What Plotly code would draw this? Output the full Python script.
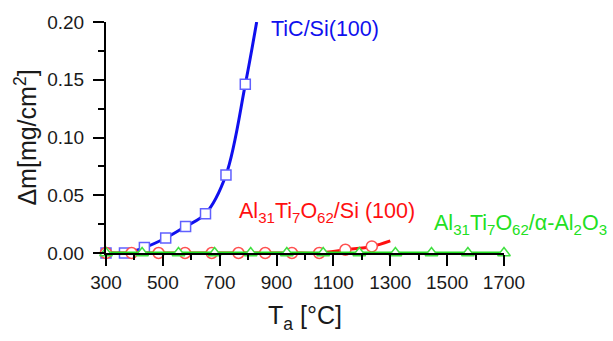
import plotly.graph_objects as go

# Annealing temperature (°C) and mass gain (mg/cm²) per coating/substrate
tic_si_T = [300, 365, 435, 510, 580, 650, 722, 790]
tic_si_dm = [0.0, 0.0, 0.0047, 0.013, 0.023, 0.034, 0.0675, 0.146]
# fitted curve continues past the last measurement
tic_si_curve_T = tic_si_T + [830]
tic_si_curve_dm = tic_si_dm + [0.200]

ato_si_T = [300, 390, 485, 578, 672, 766, 860, 954, 1050, 1142, 1235]
ato_si_dm = [0.0, 0.0, 0.0, 0.0, 0.0, 0.0, 0.0, 0.0, 0.0, 0.0028, 0.0057]
ato_si_curve_T = ato_si_T + [1300]
ato_si_curve_dm = ato_si_dm + [0.0105]

ato_al2o3_T = [300, 427, 555, 682, 809, 936, 1064, 1191, 1318, 1445, 1573, 1700]
ato_al2o3_dm = [0.0] * len(ato_al2o3_T)

x_ticks = [300, 500, 700, 900, 1100, 1300, 1500, 1700]
y_ticks = [0.00, 0.05, 0.10, 0.15, 0.20]

BLUE = "#1010ee"
RED = "#ff1010"
GREEN = "#22e022"
FONT = "Liberation Sans, Arial, sans-serif"

fig = go.Figure()

# TiC/Si(100)
fig.add_trace(go.Scatter(x=tic_si_curve_T, y=tic_si_curve_dm, mode="lines",
                         line=dict(color=BLUE, width=3, shape="spline"),
                         cliponaxis=False, hoverinfo="skip"))
fig.add_trace(go.Scatter(x=tic_si_T, y=tic_si_dm, mode="markers",
                         marker=dict(symbol="square", size=10, color="white",
                                     line=dict(color="#6060ff", width=1.5)),
                         cliponaxis=False))

# Al31Ti7O62/Si(100)
fig.add_trace(go.Scatter(x=ato_si_curve_T, y=ato_si_curve_dm, mode="lines",
                         line=dict(color=RED, width=3, shape="spline"),
                         cliponaxis=False, hoverinfo="skip"))
fig.add_trace(go.Scatter(x=ato_si_T, y=ato_si_dm, mode="markers",
                         marker=dict(symbol="circle", size=11, color="white",
                                     line=dict(color="#ff5050", width=1.5)),
                         cliponaxis=False))

# Al31Ti7O62/α-Al2O3
fig.add_trace(go.Scatter(x=ato_al2o3_T, y=ato_al2o3_dm, mode="lines",
                         line=dict(color=GREEN, width=3),
                         cliponaxis=False, hoverinfo="skip"))
fig.add_trace(go.Scatter(x=ato_al2o3_T, y=ato_al2o3_dm, mode="markers",
                         marker=dict(symbol="triangle-up", size=11, color="white",
                                     line=dict(color="#40e040", width=1.5)),
                         cliponaxis=False))

ann_font = dict(family=FONT, size=21.5)
fig.add_annotation(x=875, y=0.194, text="TiC/Si(100)", showarrow=False,
                   xanchor="left", yanchor="middle",
                   font=dict(ann_font, color=BLUE))
fig.add_annotation(x=762, y=0.0354,
                   text="Al<sub>31</sub>Ti<sub>7</sub>O<sub>62</sub>/Si (100)",
                   showarrow=False, xanchor="left", yanchor="middle",
                   font=dict(ann_font, color=RED))
fig.add_annotation(x=1447, y=0.025,
                   text="Al<sub>31</sub>Ti<sub>7</sub>O<sub>62</sub>/α-Al<sub>2</sub>O<sub>3</sub>",
                   showarrow=False, xanchor="left", yanchor="middle",
                   font=dict(ann_font, color=GREEN))

axis_common = dict(showline=True, linecolor="black", linewidth=2,
                   ticks="outside", tickcolor="black", tickwidth=2, ticklen=11,
                   showgrid=False, zeroline=False, mirror=False,
                   tickfont=dict(family=FONT, size=19, color="#1a1a1a"))

fig.update_xaxes(range=[300, 1700], tickvals=x_ticks,
                 minor=dict(dtick=100, tick0=300, ticks="outside", ticklen=5,
                            tickwidth=2, tickcolor="black"),
                 title=dict(text="T<sub>a</sub> [°C]",
                            font=dict(family=FONT, size=25, color="#1a1a1a"),
                            standoff=15),
                 **axis_common)
fig.update_yaxes(range=[0, 0.2], tickvals=y_ticks, tickformat=".2f",
                 ticklabelstandoff=5,
                 minor=dict(dtick=0.025, tick0=0, ticks="outside", ticklen=6,
                            tickwidth=2, tickcolor="black"),
                 title=dict(text="Δm[mg/cm<sup>2</sup>]",
                            font=dict(family=FONT, size=25, color="#1a1a1a"),
                            standoff=3),
                 **axis_common)

fig.update_layout(width=613, height=341,
                  margin=dict(l=105.5, r=109, t=20, b=87.7),
                  plot_bgcolor="white", paper_bgcolor="white",
                  showlegend=False)

fig.write_html("out.html")
